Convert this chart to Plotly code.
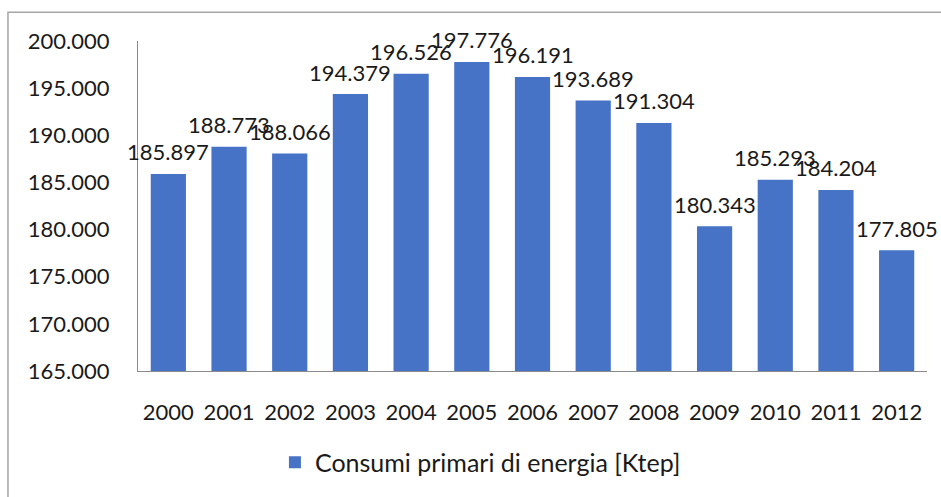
import plotly.graph_objects as go

years = ["2000", "2001", "2002", "2003", "2004", "2005", "2006",
         "2007", "2008", "2009", "2010", "2011", "2012"]
consumi = [185897, 188773, 188066, 194379, 196526, 197776, 196191,
           193689, 191304, 180343, 185293, 184204, 177805]
series_name = "Consumi primari di energia [Ktep]"
y_ticks = [165000, 170000, 175000, 180000, 185000, 190000, 195000, 200000]

FONT = "Lato, 'Open Sans', sans-serif"
TXT = "#1a1a1a"


def fmt(v):
    return f"{v:,.0f}".replace(",", ".")


fig = go.Figure()
fig.add_trace(go.Bar(
    x=years, y=consumi, name=series_name,
    marker=dict(color="#4673c6", line=dict(width=0)),
    showlegend=True, hoverinfo="x+y",
))

# category axis: annotation x given as category index
annotations = [
    dict(x=i, y=v, xref="x", yref="y", text=fmt(v), showarrow=False,
         xanchor="center", yanchor="middle", yshift=22,
         font=dict(family=FONT, size=22, color=TXT))
    for i, v in enumerate(consumi)
]

fig.update_layout(
    width=941, height=497,
    margin=dict(l=138, r=14, t=41, b=123),
    paper_bgcolor="white", plot_bgcolor="white",
    separators=",.",
    bargap=0.42,
    font=dict(family=FONT, size=22, color=TXT),
    showlegend=True,
    legend=dict(orientation="h", x=0.434, xanchor="center",
                y=-0.277, yanchor="middle",
                font=dict(family=FONT, size=25, color=TXT),
                itemwidth=30),
    xaxis=dict(type="category", categoryorder="array", categoryarray=years,
               range=[-0.5, len(years) - 0.5],
               showgrid=False, showline=True,
               linecolor="#8c8c8c", linewidth=1, ticks="",
               ticklabelstandoff=22,
               tickfont=dict(family=FONT, size=22, color=TXT)),
    yaxis=dict(range=[165000, 200000], tickvals=y_ticks,
               tickformat=",.0f", showgrid=False, showline=True,
               linecolor="#8c8c8c", linewidth=1, ticks="",
               ticklabelstandoff=23, zeroline=False,
               tickfont=dict(family=FONT, size=22, color=TXT)),
    annotations=annotations,
    shapes=[dict(type="rect", xref="paper", yref="paper",
                 x0=-0.1648, y0=-0.6, x1=1.2, y1=1.0871,
                 line=dict(color="#a6a6a6", width=1.5),
                 fillcolor="rgba(0,0,0,0)", layer="below")],
)

fig.write_html(
    "out.html",
    config={"displayModeBar": False},
    post_script="document.body.style.margin='0';"
                "document.body.style.overflow='hidden';",
)
